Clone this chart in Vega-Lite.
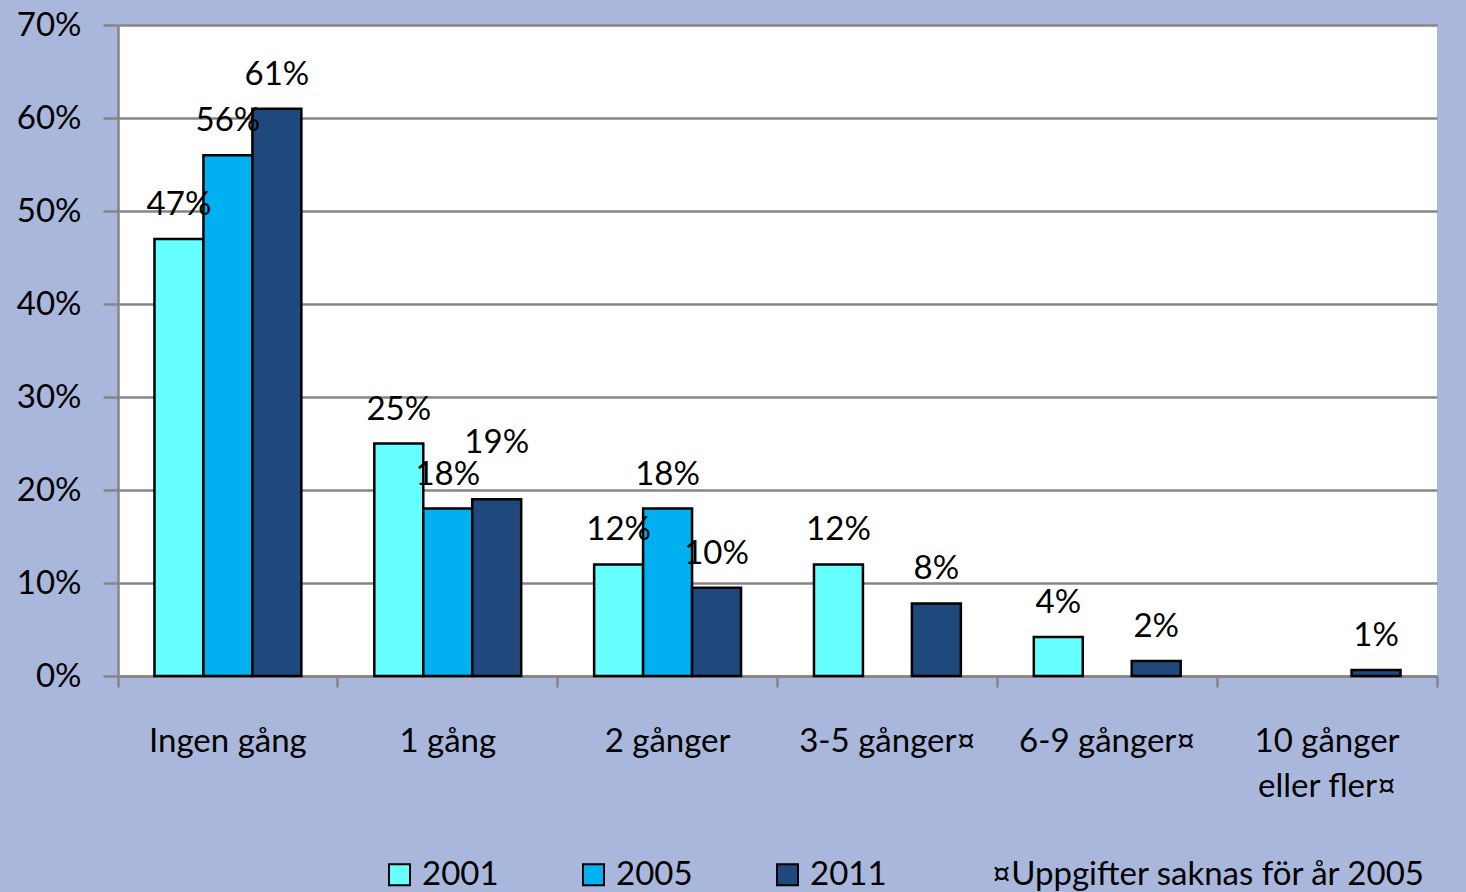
{
  "$schema": "https://vega.github.io/schema/vega-lite/v6.json",
  "width": 1319,
  "height": 651,
  "autosize": {"type": "none"},
  "padding": {"left": 118, "top": 25, "right": 29, "bottom": 216},
  "background": "#aab7dc",
  "config": {"font": "Lato", "view": {"fill": "white", "stroke": null}},
  "data": {
    "values": [
      {"kategori": "Ingen gång", "ar": "2001", "andel": 0.47},
      {"kategori": "Ingen gång", "ar": "2005", "andel": 0.56},
      {"kategori": "Ingen gång", "ar": "2011", "andel": 0.61},
      {"kategori": "1 gång", "ar": "2001", "andel": 0.25},
      {"kategori": "1 gång", "ar": "2005", "andel": 0.18},
      {"kategori": "1 gång", "ar": "2011", "andel": 0.19},
      {"kategori": "2 gånger", "ar": "2001", "andel": 0.12},
      {"kategori": "2 gånger", "ar": "2005", "andel": 0.18},
      {"kategori": "2 gånger", "ar": "2011", "andel": 0.095},
      {"kategori": "3-5 gånger¤", "ar": "2001", "andel": 0.12},
      {"kategori": "3-5 gånger¤", "ar": "2011", "andel": 0.078},
      {"kategori": "6-9 gånger¤", "ar": "2001", "andel": 0.042},
      {"kategori": "6-9 gånger¤", "ar": "2011", "andel": 0.016},
      {"kategori": "10 gånger eller fler¤", "ar": "2011", "andel": 0.0065}
    ]
  },
  "encoding": {
    "x": {
      "field": "kategori",
      "type": "nominal",
      "sort": null,
      "scale": {"paddingInner": 0, "paddingOuter": 0},
      "axis": {
        "title": null,
        "labelAngle": 0,
        "bandPosition": 1,
        "tickExtra": true,
        "tickSize": 11,
        "tickColor": "#868686",
        "tickWidth": 2.5,
        "domainColor": "#868686",
        "domainWidth": 2.5,
        "labelPadding": 38,
        "labelBaseline": "top",
        "labelLineHeight": 45,
        "labelFontSize": 33,
        "labelColor": "black",
        "labelOverlap": false,
        "labelExpr": "datum.label == '10 gånger eller fler¤' ? ['10 gånger', 'eller fler¤'] : datum.label",
        "grid": false
      }
    },
    "xOffset": {
      "field": "ar",
      "type": "nominal",
      "scale": {"domain": ["2001", "2005", "2011"], "paddingOuter": 0.745, "paddingInner": 0}
    },
    "y": {
      "field": "andel",
      "type": "quantitative",
      "scale": {"domain": [0, 0.7]},
      "axis": {
        "title": null,
        "values": [0, 0.1, 0.2, 0.3, 0.4, 0.5, 0.6, 0.7],
        "format": ".0%",
        "gridColor": "#868686",
        "gridWidth": 2.5,
        "domainColor": "#868686",
        "domainWidth": 2.5,
        "tickColor": "#868686",
        "tickWidth": 2.5,
        "tickSize": 15,
        "labelPadding": 22,
        "labelFontSize": 33,
        "labelColor": "black"
      }
    }
  },
  "layer": [
    {
      "mark": {"type": "bar", "stroke": "black", "strokeWidth": 2.5},
      "encoding": {
        "color": {
          "field": "ar",
          "type": "nominal",
          "scale": {"domain": ["2001", "2005", "2011"], "range": ["#66FFFF", "#00B0F0", "#1F497D"]},
          "legend": {
            "title": "¤Uppgifter saknas för år 2005",
            "orient": "none",
            "legendX": 265,
            "legendY": 833,
            "direction": "horizontal",
            "titleOrient": "right",
            "titlePadding": 105,
            "titleFontSize": 33,
            "titleFontWeight": "normal",
            "titleColor": "black",
            "titleLimit": 800,
            "labelFontSize": 33,
            "labelColor": "black",
            "symbolType": "square",
            "symbolSize": 441,
            "symbolStrokeColor": "black",
            "symbolStrokeWidth": 2,
            "columnPadding": 78,
            "labelOffset": 6
          }
        }
      }
    },
    {
      "mark": {
        "type": "text",
        "fontSize": 33,
        "baseline": "alphabetic",
        "dy": {"expr": "datum.kategori == '1 gång' && datum.ar == '2011' ? -46 : -24"},
        "color": "black"
      },
      "encoding": {"text": {"field": "andel", "type": "quantitative", "format": ".0%"}}
    }
  ]
}
